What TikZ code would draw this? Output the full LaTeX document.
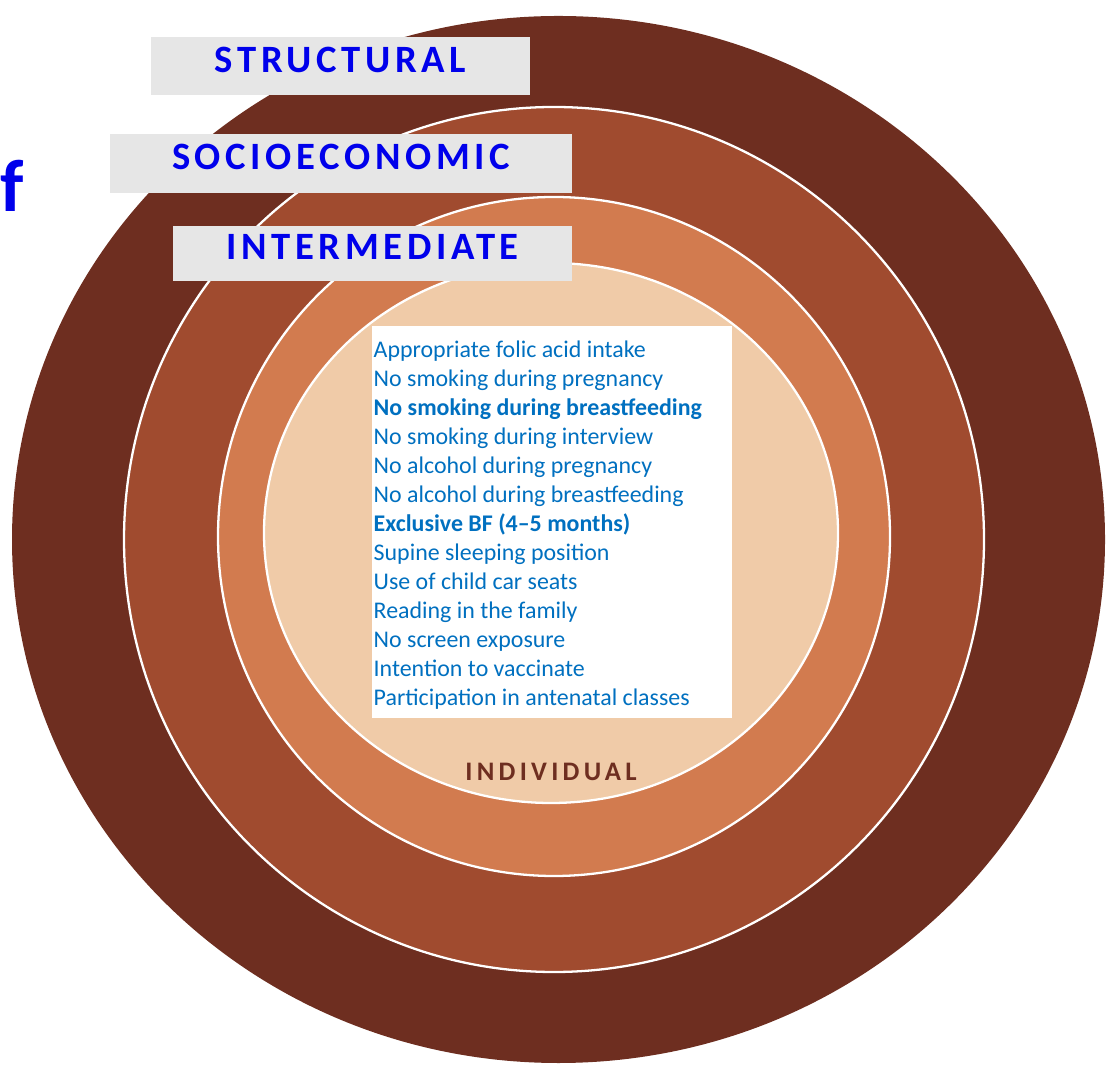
\documentclass[tikz,border=0pt]{standalone}
\usepackage{fontspec}
\setmainfont{Carlito}
\newfontfamily\layerfont[LetterSpace=12]{Carlito}
\newfontfamily\innerfont[LetterSpace=16]{Carlito}

\definecolor{ringA}{RGB}{110,46,32}
\definecolor{ringB}{RGB}{160,75,47}
\definecolor{ringC}{RGB}{210,123,79}
\definecolor{ringD}{RGB}{240,203,168}
\definecolor{boxgray}{RGB}{230,230,230}
\definecolor{labelblue}{RGB}{0,0,235}
\definecolor{itemblue}{RGB}{0,112,192}

\begin{document}
\begin{tikzpicture}
[
    x=0.01cm, y=0.01cm,
    ring/.style={draw=white, line width=0.65pt},         % ring = one layer
    lb/.style={fill=boxgray, inner sep=0pt, text=labelblue,
        text height=0.24cm, text depth=0.11cm,
        font=\layerfont\bfseries\fontsize{11}{13}\selectfont}, % lb = layer box
]
\useasboundingbox (0,0) rectangle (1116,1064);

\fill[fill=ringA] (558.5,524.5) ellipse [x radius=546.5, y radius=523.5];
\draw[ring, fill=ringB] (554,524.5) ellipse [x radius=430, y radius=432.5];
\draw[ring, fill=ringC] (554,527.5) ellipse [x radius=336, y radius=339.5];
\draw[ring, fill=ringD] (551,531) ellipse [x radius=287, y radius=270];

\node [lb, minimum width=3.79cm, minimum height=0.58cm] (structural) at (340.5,998) {STRUCTURAL};
\node [lb, minimum width=4.62cm, minimum height=0.59cm] (socio) at (341,900.5) {SOCIOECONOMIC};
\node [lb, minimum width=3.99cm, minimum height=0.55cm] (inter) at (372.5,810.5) {INTERMEDIATE};

\node [fill=white, inner sep=0pt, minimum width=3.60cm, minimum height=3.92cm] (list) at (552,542) {};
\node [anchor=north west, inner sep=0pt, align=left, text=itemblue,
    font=\fontsize{6.8}{8.25}\selectfont] (items) at (373,724) {%
    Appropriate folic acid intake\\
    No smoking during pregnancy\\
    \textbf{No smoking during breastfeeding}\\
    No smoking during interview\\
    No alcohol during pregnancy\\
    No alcohol during breastfeeding\\
    \textbf{Exclusive BF (4–5 months)}\\
    Supine sleeping position\\
    Use of child car seats\\
    Reading in the family\\
    No screen exposure\\
    Intention to vaccinate\\
    Participation in antenatal classes};

\node [text=ringA, font=\innerfont\bfseries\fontsize{7.6}{9}\selectfont] (individual) at (551,292) {INDIVIDUAL};

\node [anchor=base west, inner sep=0pt, text=labelblue,
    font=\bfseries\fontsize{21}{25}\selectfont] (panel) at (0,852) {f};
\end{tikzpicture}
\end{document}
